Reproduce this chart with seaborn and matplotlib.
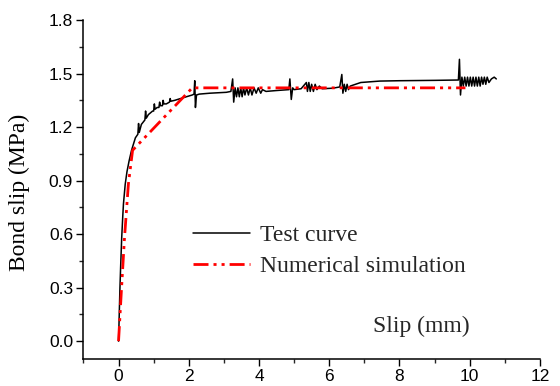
import numpy as np
import pandas as pd
import matplotlib
matplotlib.use("Agg")
import matplotlib.pyplot as plt
import seaborn as sns
from matplotlib.ticker import MultipleLocator

# test curve
test_slip = [0, 0.02, 0.04, 0.06, 0.09, 0.12, 0.14, 0.19, 0.24, 0.30, 0.37, 0.48,
             0.55, 0.57, 0.59, 0.65, 0.75, 0.77, 0.79, 0.85, 0.97, 1.00, 1.02, 1.04,
             1.10, 1.15, 1.17, 1.19, 1.25, 1.27, 1.29, 1.36, 1.45, 1.47, 1.49, 1.60,
             1.93, 2.10, 2.15, 2.17, 2.19, 2.22, 2.30, 2.60, 3.07, 3.20, 3.25, 3.28,
             3.32, 3.36, 3.40, 3.44, 3.48, 3.52, 3.56, 3.60, 3.65, 3.70, 3.75, 3.80,
             3.86, 3.92, 3.98, 4.05, 4.10, 4.20, 4.50, 4.85, 4.88, 4.92, 4.96, 5.00,
             5.20, 5.35, 5.38, 5.42, 5.46, 5.50, 5.55, 5.60, 5.65, 5.72, 5.80, 6.10,
             6.30, 6.36, 6.39, 6.43, 6.47, 6.51, 6.55, 6.60, 6.90, 7.44, 8.00, 9.00,
             9.68, 9.71, 9.74, 9.78, 9.82, 9.86, 9.90, 9.94, 9.98, 10.02, 10.06, 10.10,
             10.14, 10.18, 10.22, 10.26, 10.30, 10.34, 10.38, 10.42, 10.46, 10.50,
             10.55, 10.62, 10.70, 10.76]
test_stress = [0, 0.15, 0.30, 0.42, 0.58, 0.70, 0.77, 0.88, 0.95, 1.01, 1.07, 1.14,
               1.16, 1.22, 1.17, 1.215, 1.24, 1.29, 1.25, 1.27, 1.29, 1.29, 1.33, 1.30,
               1.31, 1.31, 1.34, 1.32, 1.32, 1.35, 1.33, 1.33, 1.34, 1.36, 1.345, 1.35,
               1.37, 1.38, 1.385, 1.46, 1.31, 1.38, 1.385, 1.39, 1.395, 1.40, 1.47, 1.34,
               1.42, 1.37, 1.42, 1.37, 1.42, 1.37, 1.42, 1.38, 1.42, 1.38, 1.42, 1.38,
               1.42, 1.39, 1.42, 1.39, 1.41, 1.40, 1.405, 1.41, 1.47, 1.355, 1.42, 1.41,
               1.415, 1.45, 1.40, 1.45, 1.40, 1.44, 1.40, 1.44, 1.41, 1.43, 1.415, 1.418,
               1.425, 1.495, 1.39, 1.44, 1.40, 1.44, 1.41, 1.43, 1.45, 1.458, 1.46, 1.462,
               1.464, 1.58, 1.38, 1.48, 1.43, 1.48, 1.43, 1.48, 1.43, 1.48, 1.43, 1.48,
               1.43, 1.48, 1.43, 1.48, 1.43, 1.48, 1.44, 1.48, 1.44, 1.48, 1.45, 1.47,
               1.48, 1.47]

# numerical simulation
sim_slip = [0, 0.08, 0.17, 0.28, 0.40, 2.10, 9.88]
sim_stress = [0, 0.28, 0.58, 0.88, 1.07, 1.42, 1.42]

yticks = [0.0, 0.3, 0.6, 0.9, 1.2, 1.5, 1.8]
ytick_labels = ["0.0", "0.3", "0.6", "0.9", "1.2", "1.5", "1.8"]

test_df = pd.DataFrame({"slip": test_slip, "stress": test_stress})
sim_df = pd.DataFrame({"slip": sim_slip, "stress": sim_stress})

sns.set_theme(style="ticks")
plt.rcParams["font.family"] = ["Liberation Sans", "DejaVu Sans"]
serif = ["Liberation Serif", "DejaVu Serif"]

fig = plt.figure(figsize=(5.6, 3.86), dpi=100)
ax = fig.add_axes([0.149, 0.070, 0.815, 0.878])

sns.lineplot(data=test_df, x="slip", y="stress", sort=False, estimator=None,
             color="black", linewidth=1.1, label="Test curve", ax=ax)
sns.lineplot(data=sim_df, x="slip", y="stress", sort=False, estimator=None,
             color="#ff0000", linewidth=2.0, linestyle=(0, (5.4, 1.8, 1.1, 1.8, 1.1, 1.8)),
             label="Numerical simulation", ax=ax)

ax.set_xlim(-1, 12)
ax.set_ylim(-0.10, 1.8)
ax.xaxis.set_major_locator(MultipleLocator(2))
ax.xaxis.set_minor_locator(MultipleLocator(1))
ax.yaxis.set_minor_locator(MultipleLocator(0.15))
ax.set_yticks(yticks)
ax.set_yticklabels(ytick_labels)
ax.tick_params(which="major", direction="out", length=5, width=1, labelsize=12.5,
               colors="black", pad=2.5)
ax.tick_params(which="minor", direction="out", length=3, width=1)
sns.despine(ax=ax)
for s in ["left", "bottom"]:
    ax.spines[s].set_linewidth(1.1)
    ax.spines[s].set_color("black")

ax.set_xlabel("")
ax.set_ylabel("Bond slip (MPa)", fontsize=17, family=serif, color="black")
ax.yaxis.set_label_coords(-0.117, 0.491)
ax.text(0.741, 0.097, "Slip (mm)", transform=ax.transAxes, fontsize=17,
        family=serif, ha="center", va="center")

ax.legend(loc="center left", bbox_to_anchor=(0.240, 0.319), frameon=False,
          borderpad=0, borderaxespad=0, handlelength=2.42, handletextpad=0.42,
          labelspacing=0.43, prop={"family": serif, "size": 17})

fig.savefig("out.png", dpi=100)
